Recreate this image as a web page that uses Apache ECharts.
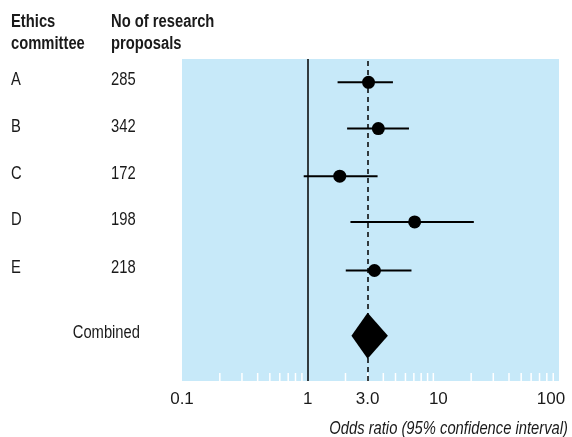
<!DOCTYPE html>
<html>
<head>
    <meta charset="UTF-8"/>
    <title>Odds ratio by ethics committee</title>
    <script src="https://cdn.jsdelivr.net/npm/echarts@6/dist/echarts.min.js"></script>
    <style>
        html, body { margin: 0; padding: 0; background: #fff; }
        #charts { width: 572px; height: 437px; }
    </style>
</head>
<body>
<div id="charts"></div>
<script>
    // rows of the forest plot
    var committees = ['A', 'B', 'C', 'D', 'E'];
    var proposals = [285, 342, 172, 198, 218];
    var rowPos = [1.03, 2, 3, 3.96, 4.98];
    var oddsRatio = [3.05, 3.65, 1.8, 7.1, 3.4];
    var ciLow = [1.73, 2.06, 0.93, 2.19, 2.01];
    var ciHigh = [4.77, 6.4, 3.6, 21.0, 6.7];

    // combined estimate (diamond)
    var combinedLabel = 'Combined';
    var combinedPos = 6.35;
    var combinedLow = 2.23;
    var combinedEst = 3.0;
    var combinedHigh = 4.35;

    var nullValue = 1;
    var pooledValue = 3.0;
    var pooledLabel = '3.0';
    var minorTicks = [0.2, 0.3, 0.4, 0.5, 0.6, 0.7, 0.8, 0.9,
        2, 3, 4, 5, 6, 7, 8, 9, 10,
        20, 30, 40, 50, 60, 70, 80, 90];

    var yMin = 0.54, yMax = 7.3;
    var FONT = '"Liberation Sans", Arial, sans-serif';
    var TXT = '#1a1a1a';

    var ciData = rowPos.map(function (p, i) { return [ciLow[i], ciHigh[i], p]; });
    var dotData = rowPos.map(function (p, i) { return [oddsRatio[i], p]; });

    var myChart = echarts.init(document.getElementById('charts'));

    var option = {
        animation: false,
        grid: {
            left: 182, right: 13, top: 59, bottom: 56,
            outerBoundsMode: 'none',
            show: true, backgroundColor: '#c7e9f9', borderWidth: 0
        },
        xAxis: {
            type: 'log',
            logBase: 10,
            min: 0.1,
            max: 100,
            axisLine: { show: false },
            axisTick: { show: false },
            splitLine: { show: false },
            axisLabel: {
                showMinLabel: true, showMaxLabel: true,
                margin: 10, fontSize: 17, fontFamily: FONT, color: TXT,
                formatter: function (v) {
                    if (v >= 100) return '{l|' + v + '}';
                    if (v === 10) return '{r|' + v + '}';
                    return String(v);
                },
                rich: {
                    l: { fontSize: 17, fontFamily: FONT, color: TXT, padding: [0, 16, 0, 0] },
                    r: { fontSize: 17, fontFamily: FONT, color: TXT, padding: [0, 0, 0, 10] }
                }
            }
        },
        yAxis: {
            type: 'value', inverse: true, min: yMin, max: yMax, show: false
        },
        series: [
            {
                // white minor ticks along the bottom of the plot
                type: 'scatter',
                silent: true,
                symbol: 'rect',
                symbolSize: [1.5, 8],
                symbolOffset: [0, -4],
                itemStyle: { color: '#fff', opacity: 1 },
                data: minorTicks.map(function (v) { return [v, yMax]; }),
                markLine: {
                    silent: true,
                    symbol: 'none',
                    data: [
                        {
                            xAxis: nullValue,
                            label: { show: false },
                            lineStyle: { color: '#000', width: 1.5, type: 'solid' }
                        },
                        [
                            { coord: [pooledValue, yMax] },
                            {
                                coord: [pooledValue, yMin],
                                label: {
                                    show: true, position: 'start', distance: 10,
                                    formatter: pooledLabel,
                                    fontSize: 17, fontFamily: FONT, color: TXT
                                },
                                lineStyle: { color: '#000', width: 1.5, type: [5, 4] }
                            }
                        ]
                    ]
                }
            },
            {
                // confidence intervals
                type: 'custom',
                data: ciData,
                encode: { x: [0, 1], y: 2 },
                renderItem: function (params, api) {
                    var p1 = api.coord([api.value(0), api.value(2)]);
                    var p2 = api.coord([api.value(1), api.value(2)]);
                    return {
                        type: 'line',
                        shape: { x1: p1[0], y1: p1[1], x2: p2[0], y2: p2[1] },
                        style: { stroke: '#000', lineWidth: 2 }
                    };
                },
                z: 3
            },
            {
                type: 'scatter',
                symbol: 'circle',
                symbolSize: 13,
                itemStyle: { color: '#000', opacity: 1 },
                data: dotData,
                z: 4
            },
            {
                // combined diamond
                type: 'custom',
                data: [[combinedLow, combinedEst, combinedHigh, combinedPos]],
                encode: { x: [0, 1, 2], y: 3 },
                renderItem: function (params, api) {
                    var l = api.coord([api.value(0), api.value(3)]);
                    var c = api.coord([api.value(1), api.value(3)]);
                    var r = api.coord([api.value(2), api.value(3)]);
                    var h = 23;
                    return {
                        type: 'polygon',
                        shape: { points: [[l[0], l[1]], [c[0], c[1] - h], [r[0], r[1]], [c[0], c[1] + h]] },
                        style: { fill: '#000' }
                    };
                },
                z: 4
            }
        ]
    };
    myChart.setOption(option);

    // left-hand table and axis title (condensed look via horizontal scale)
    function txt(s, x, y, opts) {
        opts = opts || {};
        return {
            type: 'text', x: x, y: y, scaleX: 0.82, silent: true,
            style: {
                text: s, fill: TXT, fontSize: 18, fontFamily: FONT,
                fontWeight: opts.bold ? 'bold' : 'normal',
                fontStyle: opts.italic ? 'italic' : 'normal',
                align: opts.align || 'left', verticalAlign: 'middle'
            }
        };
    }
    var g = [
        txt('Ethics', 11, 22, { bold: true }),
        txt('committee', 11, 44, { bold: true }),
        txt('No of research', 111, 22, { bold: true }),
        txt('proposals', 111, 44, { bold: true })
    ];
    committees.forEach(function (c, i) {
        var y = myChart.convertToPixel({ yAxisIndex: 0 }, rowPos[i]);
        g.push(txt(c, 11, y - 2));
        g.push(txt(String(proposals[i]), 111, y - 2));
    });
    var yc = myChart.convertToPixel({ yAxisIndex: 0 }, combinedPos);
    g.push(txt(combinedLabel, 140, yc - 3, { align: 'right' }));
    g.push(txt('Odds ratio (95% confidence interval)', 568, 429, { italic: true, align: 'right' }));
    myChart.setOption({ graphic: g });
</script>
</body>
</html>
